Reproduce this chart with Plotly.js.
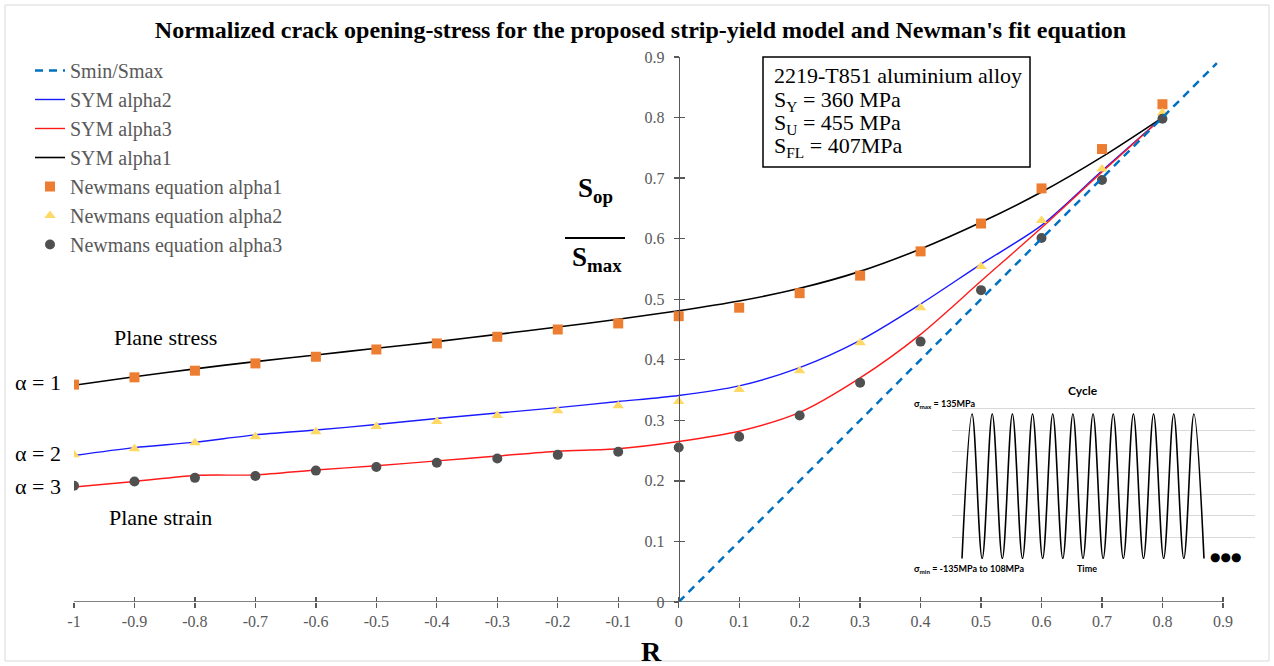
<!DOCTYPE html>
<html>
<head>
<meta charset="utf-8">
<script src="https://cdn.plot.ly/plotly-3.0.1.min.js"></script>
<style>html,body{margin:0;padding:0;background:#fff;}#chart{width:1274px;height:666px;}</style>
</head>
<body>
<div id="chart"></div>
<script>
// ---- data ----
const R = [-1,-0.9,-0.8,-0.7,-0.6,-0.5,-0.4,-0.3,-0.2,-0.1,0,0.1,0.2,0.3,0.4,0.5,0.6,0.7,0.8];
const symAlpha1 = [0.358,0.372,0.385,0.397,0.408,0.419,0.430,0.442,0.454,0.467,0.481,0.497,0.518,0.546,0.583,0.627,0.677,0.735,0.800];
const symAlpha2 = [0.242,0.255,0.264,0.276,0.284,0.293,0.303,0.312,0.321,0.331,0.341,0.357,0.387,0.432,0.492,0.558,0.622,0.712,0.800];
const symAlpha3 = [0.190,0.199,0.209,0.210,0.218,0.225,0.233,0.241,0.249,0.253,0.265,0.282,0.313,0.370,0.442,0.530,0.618,0.710,0.800];
const newman1 = [0.359,0.371,0.382,0.394,0.405,0.417,0.427,0.438,0.450,0.460,0.472,0.486,0.510,0.539,0.579,0.625,0.683,0.748,0.822];
const newman2 = [0.243,0.253,0.263,0.273,0.281,0.290,0.298,0.308,0.316,0.324,0.331,0.351,0.382,0.428,0.486,0.554,0.630,0.715,0.808];
const newman3 = [0.192,0.199,0.205,0.208,0.217,0.223,0.230,0.237,0.243,0.248,0.255,0.273,0.308,0.362,0.430,0.515,0.601,0.697,0.798];
const rLine = [0, 0.89];
const sRatioLine = [0, 0.89];
const xTicks = [-1,-0.9,-0.8,-0.7,-0.6,-0.5,-0.4,-0.3,-0.2,-0.1,0,0.1,0.2,0.3,0.4,0.5,0.6,0.7,0.8,0.9];
const xTickText = ['-1','-0.9','-0.8','-0.7','-0.6','-0.5','-0.4','-0.3','-0.2','-0.1','0','0.1','0.2','0.3','0.4','0.5','0.6','0.7','0.8','0.9'];
const yTicks = [0,0.1,0.2,0.3,0.4,0.5,0.6,0.7,0.8,0.9];
const yTickText = ['0','0.1','0.2','0.3','0.4','0.5','0.6','0.7','0.8','0.9'];
const infoLines = ['2219-T851 aluminium alloy', 'S<sub>Y</sub> = 360 MPa', 'S<sub>U</sub> = 455 MPa', 'S<sub>FL</sub> = 407MPa'];
// inset: loading cycle (time in cycles, stress in MPa)
const cycleTime = [0,0.5,1,1.5,2,2.5,3,3.5,4,4.5,5,5.5,6,6.5,7,7.5,8,8.5,9,9.5,10,10.5,11,11.5,12];
const cycleStress = [-135,135,-135,135,-135,135,-135,135,-135,135,-135,135,-135,135,-135,135,-135,135,-135,135,-135,135,-135,135,-135];

const serif = 'Liberation Serif, Times New Roman, serif';
const gray = '#595959';

// pixel helpers for layout placement (plot area: x 74..1264, y 57..602)
const L = 74, T = 57, W = 1190, H = 545;
const px = x => (x - L) / W;
const py = y => (T + H - y) / H;
const xMax = -1 + W / 604.7;

const traces = [
  {x: rLine, y: sRatioLine, name: 'Smin/Smax', mode: 'lines', xaxis: 'x3', yaxis: 'y3',
   line: {color: '#0070C0', width: 2.5, dash: '8px,6px'}},
  {x: R, y: symAlpha2, name: 'SYM alpha2', mode: 'lines', line: {color: '#1a1aff', width: 1.4, shape: 'spline', smoothing: 0.8}},
  {x: R, y: symAlpha3, name: 'SYM alpha3', mode: 'lines', line: {color: '#ff1a1a', width: 1.4, shape: 'spline', smoothing: 0.8}},
  {x: R, y: symAlpha1, name: 'SYM alpha1', mode: 'lines', line: {color: '#000000', width: 1.6, shape: 'spline', smoothing: 0.8}},
  {x: R, y: newman1, name: 'Newmans equation alpha1', mode: 'markers', marker: {symbol: 'square', color: '#ED7D31', size: 10}},
  {x: R, y: newman2, name: 'Newmans equation alpha2', mode: 'markers', marker: {symbol: 'triangle-up', color: '#FFD966', size: 10}},
  {x: R, y: newman3, name: 'Newmans equation alpha3', mode: 'markers', marker: {symbol: 'circle', color: '#505050', size: 10}},
  {x: cycleTime, y: cycleStress, name: 'cycle', mode: 'lines', xaxis: 'x2', yaxis: 'y2', showlegend: false,
   line: {color: '#000000', width: 1.6, shape: 'spline', smoothing: 1}}
];

function note(x, y, text, size, opts) {
  return Object.assign({xref: 'paper', yref: 'paper', x: px(x), y: py(y), xanchor: 'center', yanchor: 'middle',
    showarrow: false, text: text, font: {family: serif, size: size, color: '#000'}}, opts || {});
}
const lato = s => ({family: 'Lato, sans-serif', size: s, color: '#000'});

const annotations = [
  note(595, 190, '<b>S<sub>op</sub></b>', 27),
  note(597, 259, '<b>S<sub>max</sub></b>', 27),
  note(651, 652, '<b>R</b>', 28),
  note(165, 337, 'Plane stress', 22),
  note(160, 517, 'Plane strain', 22),
  note(38, 383, 'α = 1', 22),
  note(38, 453, 'α = 2', 22),
  note(38, 487, 'α = 3', 22),
  note(1083, 390, '<b>Cycle</b>', 0, {font: lato(12)}),
  note(912, 404, '<b>σ<sub>max</sub> = 135MPa</b>', 0, {xanchor: 'left', font: lato(9)}),
  note(912, 569, '<b>σ<sub>min</sub> = -135MPa to 108MPa</b>', 0, {xanchor: 'left', font: lato(9)}),
  note(1087, 568, '<b>Time</b>', 0, {font: lato(9)}),
  note(1225, 557, '●●●', 0, {font: {family: 'DejaVu Sans, sans-serif', size: 12, color: '#000'}})
];
const infoY = [76, 99, 122, 145];
infoLines.forEach((t, i) => annotations.push(note(772, infoY[i] + (i ? 2 : 0), t, 22, {xanchor: 'left'})));

const layout = {
  width: 1274, height: 666,
  margin: {l: L, r: 1274 - L - W, t: T, b: 666 - T - H},
  paper_bgcolor: '#ffffff', plot_bgcolor: 'rgba(0,0,0,0)',
  showlegend: true,
  title: {text: "<b>Normalized crack opening-stress for the proposed strip-yield model and Newman's fit equation</b>",
          font: {family: serif, size: 24, color: '#000'}, x: 640.5/1274, xref: 'container', xanchor: 'center',
          y: 1 - 30/666, yref: 'container', yanchor: 'middle'},
  legend: {x: px(30), y: py(51), xanchor: 'left', yanchor: 'top', bgcolor: 'rgba(0,0,0,0)',
           font: {family: serif, size: 20, color: gray}, itemwidth: 30, tracegroupgap: 0},
  xaxis: {domain: [0, 1], range: [-1, xMax], anchor: 'y', showline: false, zeroline: false, showgrid: false,
          tickmode: 'array', tickvals: xTicks, ticktext: xTickText, ticks: 'outside', ticklen: 5, tickcolor: gray, tickwidth: 1.3,
          tickfont: {family: serif, size: 16, color: gray}},
  yaxis: {domain: [0, 1], range: [0, 0.9], anchor: 'free', position: 1 / (xMax + 1), showline: true, linecolor: gray, linewidth: 1.3,
          zeroline: false, showgrid: false, tickmode: 'array', tickvals: yTicks, ticktext: yTickText,
          ticks: 'outside', ticklen: 5, tickcolor: gray, tickwidth: 1.3, ticklabelstandoff: 6,
          tickfont: {family: serif, size: 16, color: gray}},
  xaxis3: {overlaying: 'x', matches: 'x', anchor: 'y3', showline: false, zeroline: false, showgrid: false,
           tickmode: 'array', tickvals: xTicks, ticks: 'inside', ticklen: 5, tickcolor: gray, tickwidth: 1.3, showticklabels: false},
  yaxis3: {overlaying: 'y', matches: 'y', anchor: 'free', position: 1 / (xMax + 1), showline: false, zeroline: false, showgrid: false,
           tickmode: 'array', tickvals: yTicks, ticks: 'inside', ticklen: 5, tickcolor: gray, tickwidth: 1.3, showticklabels: false},
  xaxis2: {domain: [px(952), px(1255)], range: [-0.496, 14.53], anchor: 'y2', showline: false, zeroline: false, showgrid: false,
           showticklabels: false, ticks: ''},
  yaxis2: {domain: [py(558) - 0.002, py(406)], range: [-136, 150], anchor: 'x2', showline: false, zeroline: false, showgrid: true,
           gridcolor: '#d9d9d9', gridwidth: 1, tick0: -135, dtick: 40, showticklabels: false, ticks: ''},
  shapes: [
    {type: 'line', xref: 'x', yref: 'y', x0: -1, x1: 0.9, y0: 0, y1: 0, line: {color: gray, width: 1.3}, layer: 'below'},
    {type: 'line', xref: 'paper', yref: 'paper', x0: px(565), x1: px(625), y0: py(238), y1: py(238), line: {color: '#000', width: 2}},
    {type: 'rect', xref: 'paper', yref: 'paper', x0: px(763), x1: px(1030), y0: py(167), y1: py(57), line: {color: '#000', width: 1.5}},
    {type: 'rect', xref: 'paper', yref: 'paper', x0: px(5), x1: px(1269), y0: py(661), y1: py(5), line: {color: '#d9d9d9', width: 1}}
  ],
  annotations: annotations
};

Plotly.newPlot('chart', traces, layout, {displayModeBar: false, staticPlot: true});
</script>
</body>
</html>
